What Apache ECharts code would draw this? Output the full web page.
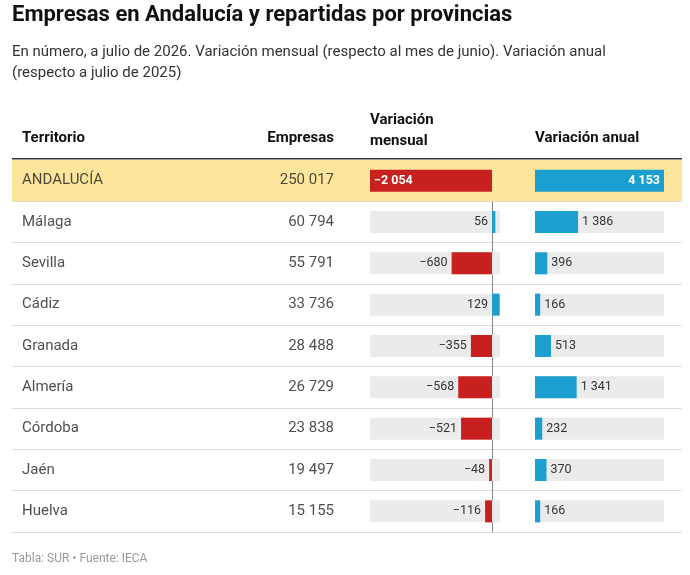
<!DOCTYPE html><html><head><meta charset="utf-8">
<script src="https://cdn.jsdelivr.net/npm/echarts@6/dist/echarts.min.js"></script>
<style>html,body{margin:0;padding:0;background:#fff}#c{width:690px;height:575px}</style></head><body><div id="c"></div>
<script>
const territorios=['ANDALUCÍA','Málaga','Sevilla','Cádiz','Granada','Almería','Córdoba','Jaén','Huelva'];
const empresas=[250017,60794,55791,33736,28488,26729,23838,19497,15155];
const varMensual=[-2054,56,-680,129,-355,-568,-521,-48,-116];
const varAnual=[4153,1386,396,166,513,1341,232,370,166];
const fmt=v=>(v<0?'−':'')+Math.abs(v).toString().replace(/\B(?=(\d{3})+(?!\d))/g,' ');
const F='Roboto';
const gTop=160,gH=372;
const cat=(gi,extra)=>Object.assign({type:'category',gridIndex:gi,data:territorios,inverse:true,axisTick:{show:false},axisLabel:{show:false},axisLine:{show:false}},extra||{});
const chart=echarts.init(document.getElementById('c'));
chart.setOption({
 animation:false,
 textStyle:{fontFamily:F},
 grid:[{left:12,right:8,top:gTop,height:gH},{left:22,width:312,top:gTop,height:gH},{left:370,width:130,top:gTop,height:gH},{left:535,width:129,top:gTop,height:gH}],
 xAxis:[{gridIndex:0,min:0,max:1,show:false},{gridIndex:1,min:0,max:1,show:false},
  {gridIndex:2,min:-2054,max:135,show:false,splitLine:{show:false}},
  {gridIndex:3,min:0,max:4153,show:false}],
 yAxis:[cat(0,{splitLine:{show:true,lineStyle:{color:'#dcdcdc'}}}),cat(1),
  cat(2,{axisLine:{show:true,onZero:true,lineStyle:{color:'#888',width:1}}}),cat(3)],
 series:[
  {type:'bar',xAxisIndex:0,yAxisIndex:0,barWidth:'100%',data:territorios.map((t,i)=>i===0?1:null),itemStyle:{color:'#fde59b'},silent:true},
  {type:'scatter',xAxisIndex:1,yAxisIndex:1,symbolSize:0,data:territorios.map(()=>0),
   label:{show:true,position:'right',distance:0,formatter:p=>territorios[p.dataIndex],fontSize:15,color:'#222',fontFamily:F}},
  {type:'scatter',xAxisIndex:1,yAxisIndex:1,symbolSize:0,data:territorios.map(()=>1),
   label:{show:true,position:'left',distance:0,formatter:p=>fmt(empresas[p.dataIndex]),fontSize:15,color:'#222',fontFamily:F}},
  {type:'bar',xAxisIndex:2,yAxisIndex:2,barWidth:22,showBackground:true,backgroundStyle:{color:'#ebebeb'},
   data:varMensual.map((v,i)=>({value:v,itemStyle:{color:v<0?'#c8201e':'#1a9fd0'},
     label:i===0?{position:'insideLeft',color:'#fff',fontWeight:'bold'}:{position:'left',color:'#333'}})),
   label:{show:true,formatter:p=>fmt(p.value),fontSize:12.5,fontFamily:F,distance:4}},
  {type:'bar',xAxisIndex:3,yAxisIndex:3,barWidth:22,showBackground:true,backgroundStyle:{color:'#ebebeb'},
   data:varAnual.map((v,i)=>({value:v,itemStyle:{color:'#1a9fd0'},
     label:i===0?{position:'insideRight',color:'#fff',fontWeight:'bold'}:{position:'right',color:'#333'}})),
   label:{show:true,formatter:p=>fmt(p.value),fontSize:12.5,fontFamily:F,distance:4}}
 ],
 graphic:[
  {type:'text',left:12,top:4,style:{text:'Empresas en Andalucía y repartidas por provincias',font:'bold 22px Roboto',fill:'#111'}},
  {type:'text',left:12,top:42,style:{text:'En número, a julio de 2026. Variación mensual (respecto al mes de junio). Variación anual\n(respecto a julio de 2025)',font:'15px Roboto',fill:'#333',lineHeight:21}},
  {type:'text',left:22,top:131,style:{text:'Territorio',font:'bold 15px Roboto',fill:'#111'}},
  {type:'text',right:356,top:131,style:{text:'Empresas',font:'bold 15px Roboto',fill:'#111',align:'right'}},
  {type:'text',left:370,top:110,style:{text:'Variación\nmensual',font:'bold 15px Roboto',fill:'#111',lineHeight:21}},
  {type:'text',left:535,top:131,style:{text:'Variación anual',font:'bold 15px Roboto',fill:'#111'}},
  {type:'rect',shape:{x:12,y:158,width:670,height:1.5},style:{fill:'#333'}},
  {type:'text',left:12,top:553,style:{text:'Tabla: SUR • Fuente: IECA',font:'12px Roboto',fill:'#999'}}
 ]
});
</script></body></html>
